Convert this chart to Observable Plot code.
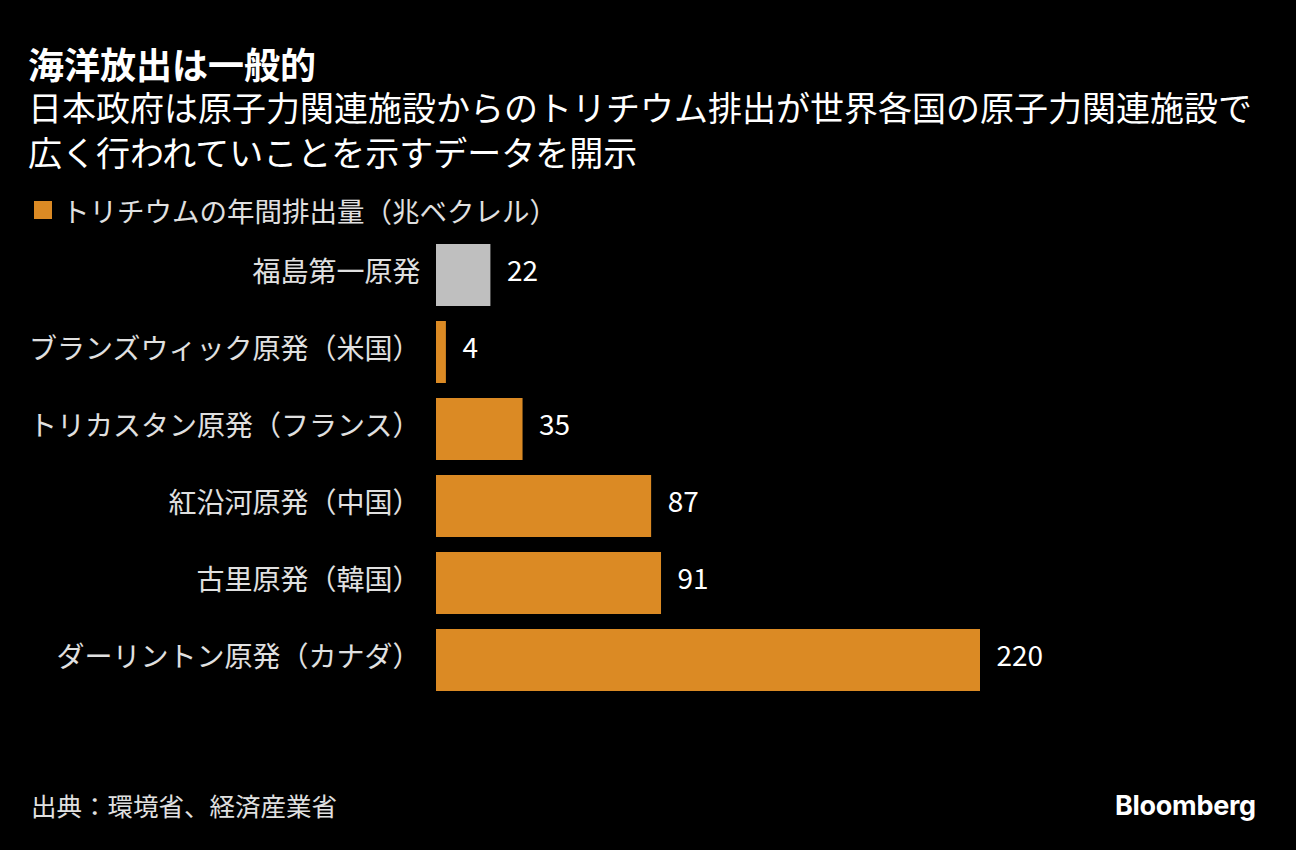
<!DOCTYPE html>
<html>
<head>
<meta charset="utf-8">
<script src="https://cdn.jsdelivr.net/npm/d3@7"></script>
<script src="https://cdn.jsdelivr.net/npm/@observablehq/plot@0.6"></script>
<style>
  html, body { margin: 0; padding: 0; background: #000; }
  body { width: 1296px; height: 850px; position: relative; overflow: hidden;
         font-family: "Noto Sans CJK JP", "Noto Sans", sans-serif; color: #fff; }
  .abs { position: absolute; white-space: nowrap; }
  #title { left: 28px; top: 44px; font-size: 36px; line-height: 38px; font-weight: 700; }
  #sub { left: 28px; top: 84px; font-size: 34px; line-height: 45px; font-weight: 400; }
  #legend { left: 34px; top: 192px; font-size: 27.5px; line-height: 36px; color: #e0e0e0; display: flex; align-items: center; }
  #legend .sw { width: 18px; height: 18px; background: #db8a24; margin-right: 10px; }
  #chart { left: 0; top: 220px; }
  #source { left: 31px; top: 788px; font-size: 25.5px; line-height: 34px; color: #e0e0e0; }
  #logo { left: 1115px; top: 789px; font-family: Inter, Roboto, sans-serif; font-weight: 700; font-size: 27px; line-height: 34px; letter-spacing: -0.3px; color: #fff; }
</style>
</head>
<body>
<div id="title" class="abs">海洋放出は一般的</div>
<div id="sub" class="abs">日本政府は原子力関連施設からのトリチウム排出が世界各国の原子力関連施設で<br>広く行われていことを示すデータを開示</div>
<div id="legend" class="abs"><span class="sw"></span><span>トリチウムの年間排出量（兆ベクレル）</span></div>
<div id="chart" class="abs"></div>
<div id="source" class="abs">出典：環境省、経済産業省</div>
<div id="logo" class="abs">Bloomberg</div>
<script>
const plants = ["福島第一原発", "ブランズウィック原発（米国）", "トリカスタン原発（フランス）", "紅沿河原発（中国）", "古里原発（韓国）", "ダーリントン原発（カナダ）"];
const emissions = [22, 4, 35, 87, 91, 220];
const groups = ["福島", "海外", "海外", "海外", "海外", "海外"];

const data = plants.map((p, i) => ({plant: p, value: emissions[i], group: groups[i]}));

const chart = Plot.plot({
  width: 1296,
  height: 492,
  marginTop: 8,
  marginBottom: 5,
  marginLeft: 436,
  marginRight: 316,
  style: { background: "transparent", color: "#e0e0e0", fontFamily: "'Noto Sans CJK JP', sans-serif", fontSize: "28px" },
  x: { domain: [0, 220], axis: null },
  y: { domain: plants, padding: 0.2, label: null },
  color: { domain: ["福島", "海外"], range: ["#bfbfbf", "#db8a24"] },
  marks: [
    Plot.axisY({ tickSize: 0, tickPadding: 16, fontSize: 28, label: null, dy: -2 }),
    Plot.barX(data, { x: "value", y: "plant", fill: "group" }),
    Plot.text(data, { x: "value", y: "plant", text: d => String(d.value), dx: 16, dy: -3, textAnchor: "start", fill: "#fff", fontSize: 28 })
  ]
});
document.getElementById("chart").appendChild(chart);
</script>
</body>
</html>
